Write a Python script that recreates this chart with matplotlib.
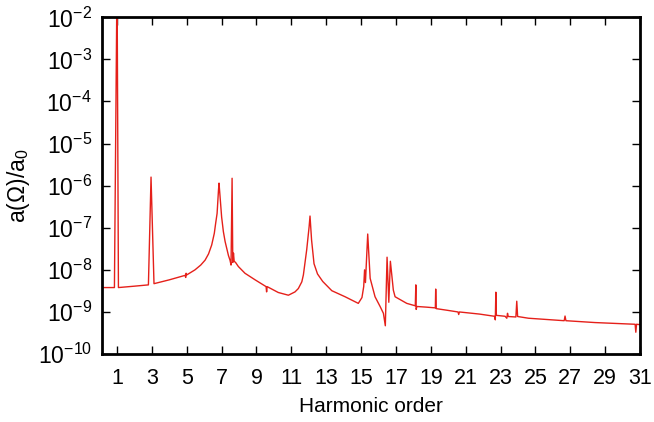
import numpy as np
import matplotlib
matplotlib.use("Agg")
import matplotlib.pyplot as plt
from matplotlib.ticker import LogLocator, FixedLocator, NullFormatter

plt.rcParams['font.family'] = ['Liberation Sans', 'DejaVu Sans']
plt.rcParams['mathtext.fontset'] = 'custom'
plt.rcParams['mathtext.rm'] = 'Liberation Sans'
plt.rcParams['mathtext.it'] = 'Liberation Sans:italic'
plt.rcParams['mathtext.bf'] = 'Liberation Sans:bold'

# Harmonic order (x) and normalized amplitude a(Omega)/a0 (y)
harmonic = [0.12, 0.85, 1.00, 1.08, 2.00, 2.80, 2.95, 3.12, 4.00, 4.90, 4.94, 4.96, 5.00,
            5.47, 5.80, 6.05, 6.25, 6.43, 6.58, 6.66, 6.74, 6.82, 6.85, 6.91, 7.00, 7.10,
            7.20, 7.39, 7.48, 7.54, 7.60, 7.64, 7.68, 7.72, 7.80, 7.96, 8.34, 8.92, 9.55,
            9.58, 9.61, 10.25, 10.83, 11.21, 11.40, 11.60, 11.69, 11.88, 12.02, 12.07,
            12.16, 12.30, 12.50, 12.80, 13.32, 14.08, 14.84, 15.05, 15.15, 15.20, 15.25,
            15.38, 15.52, 15.80, 16.09, 16.28, 16.39, 16.49, 16.59, 16.68, 16.85, 16.95,
            17.62, 18.11, 18.14, 18.16, 18.20, 18.77, 19.26, 19.28, 19.31, 19.92, 20.56,
            20.60, 20.64, 21.80, 22.65, 22.70, 22.73, 22.76, 23.26, 23.36, 23.40, 23.44,
            23.88, 23.93, 23.98, 24.60, 26.65, 26.70, 26.75, 28.42, 30.72, 30.76, 30.80,
            31.00]
amplitude = [3.8e-9, 3.8e-9, 1e-1, 3.8e-9, 4.1e-9, 4.4e-9, 1.6e-6, 4.7e-9, 5.8e-9, 7.4e-9,
             6.6e-9, 8.3e-9, 7.6e-9, 1.0e-8, 1.3e-8, 1.7e-8, 2.4e-8, 3.9e-8, 7.4e-8, 1.3e-7,
             2.2e-7, 7.9e-7, 1.15e-6, 5.5e-7, 1.8e-7, 8.1e-8, 4.7e-8, 2.2e-8, 1.7e-8, 1.3e-8,
             1.5e-6, 1.5e-8, 2.5e-8, 1.6e-8, 1.5e-8, 1.2e-8, 8.3e-9, 5.8e-9, 4.0e-9, 3.0e-9,
             4.0e-9, 2.9e-9, 2.5e-9, 3.0e-9, 3.6e-9, 5.2e-9, 7.6e-9, 3.0e-8, 1.07e-7, 1.9e-7,
             5.1e-8, 1.4e-8, 8.0e-9, 5.3e-9, 3.2e-9, 2.3e-9, 1.6e-9, 2.2e-9, 4.0e-9, 1.0e-8,
             5.0e-9, 7.1e-8, 6.3e-9, 2.3e-9, 1.35e-9, 9.3e-10, 4.7e-10, 2.0e-8, 1.7e-9,
             1.6e-8, 3.3e-9, 2.3e-9, 1.6e-9, 1.4e-9, 4.4e-9, 1.15e-9, 1.35e-9, 1.3e-9,
             1.25e-9, 3.5e-9, 1.2e-9, 1.1e-9, 1.0e-9, 8.7e-10, 1.0e-9, 8.9e-10, 7.9e-10,
             6.5e-10, 2.95e-9, 8.3e-10, 7.9e-10, 7.1e-10, 9.3e-10, 7.8e-10, 7.6e-10, 1.8e-9,
             7.8e-10, 7.1e-10, 6.2e-10, 8.0e-10, 6.2e-10, 5.6e-10, 5.1e-10, 3.3e-10, 5.1e-10,
             5.0e-10]

x_ticks = list(range(1, 32, 2))
x_ticklabels = [str(t) for t in x_ticks]
y_ticks = [10.0 ** e for e in range(-10, -1)]
y_ticklabels = [r'$10^{%d}$' % e for e in range(-10, -1)]

fig = plt.figure(figsize=(6.54, 4.22), dpi=100)
ax = fig.add_axes([0.1555, 0.161, 0.8231, 0.798])

ax.plot(harmonic, amplitude, color='#e5201a', lw=1.0)

ax.set_yscale('log')
ax.set_xlim(0.12, 31.0)
ax.set_ylim(1e-10, 1e-2)

ax.xaxis.set_major_locator(FixedLocator(x_ticks))
ax.set_xticklabels(x_ticklabels)
ax.set_yticks(y_ticks)
ax.set_yticklabels(y_ticklabels)
ax.yaxis.set_minor_locator(LogLocator(base=10, subs=np.arange(2, 10)))
ax.yaxis.set_minor_formatter(NullFormatter())

ax.tick_params(which='both', direction='in', top=True, right=True, width=1.0)
ax.tick_params(which='major', length=6)
ax.tick_params(which='minor', length=3)
ax.tick_params(axis='x', which='major', labelsize=15.5, pad=10)
ax.tick_params(axis='y', which='major', labelsize=16.5, pad=7)
for s in ax.spines.values():
    s.set_linewidth(2.0)

ax.set_xlabel('Harmonic order', fontsize=15, labelpad=6)
ax.set_ylabel(r'a($\Omega$)/a$_0$', fontsize=16.5, labelpad=4)

fig.savefig('out.png', dpi=100)
